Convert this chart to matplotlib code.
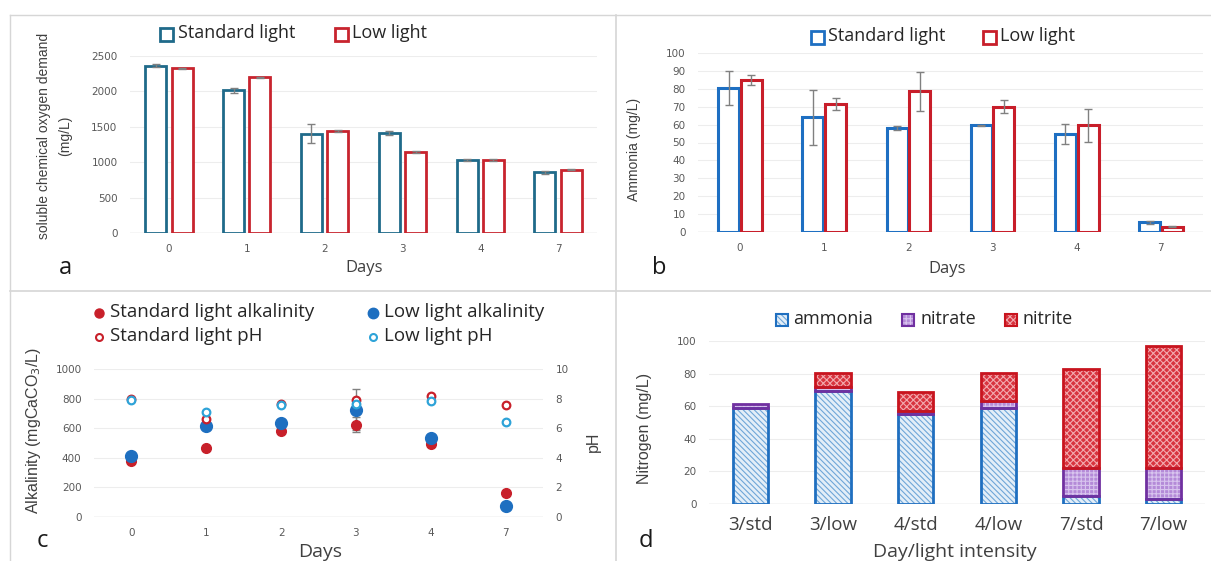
import matplotlib
matplotlib.use("Agg")
import matplotlib.pyplot as plt
from matplotlib.patches import Rectangle
import numpy as np

# ---------------- data ----------------
days = ["0", "1", "2", "3", "4", "7"]

scod_std = [2360, 2015, 1405, 1415, 1025, 855]
scod_std_err = [20, 40, 130, 25, 15, 20]
scod_low = [2325, 2200, 1445, 1145, 1025, 895]
scod_low_err = [5, 5, 12, 15, 15, 5]

nh3_std = [80.5, 64, 58, 59.5, 55, 5.5]
nh3_std_err = [9.6, 15.6, 1.2, 0.2, 5.6, 0.8]
nh3_low = [85, 71.5, 78.5, 70, 59.5, 3]
nh3_low_err = [2.8, 3.3, 10.8, 3.6, 9.2, 0.3]

alk_std = [376, 466, 579, 624, 495, 160]
alk_std_err = [0, 0, 0, 50, 15, 0]
alk_low = [410, 617, 637, 725, 534, 77]
alk_low_err = [0, 0, 0, 140, 10, 0]
ph_std = [7.95, 6.65, 7.65, 7.9, 8.15, 7.55]
ph_low = [7.9, 7.1, 7.6, 7.65, 7.85, 6.45]

groups = ["3/std", "3/low", "4/std", "4/low", "7/std", "7/low"]
n_ammonia = [59, 69.3, 55, 59, 5, 3]
n_nitrate = [2.3, 2.3, 2.3, 3.9, 17.3, 19]
n_nitrite = [0, 8.6, 11.4, 17.2, 60.7, 75]

# ---------------- layout helpers ----------------
W, H = 1211, 561
fig = plt.figure(figsize=(W / 100, H / 100), dpi=100)
fig.patch.set_facecolor("white")

TICK_FONT = ["DejaVu Sans"]
LEG_FONT = ["Open Sans", "DejaVu Sans"]
NARROW = ["Liberation Sans Narrow", "Liberation Sans", "DejaVu Sans"]
TICK_C = "#595959"
TXT_C = "#404040"
GRID_C = "#EDEDED"


def ax_at(l, t, r, b):
    return fig.add_axes([l / W, 1 - b / H, (r - l) / W, (b - t) / H])


def style(ax, ymax, step, xlabels, xsize=7.5, xpad=8, ypad=9):
    ax.set_xlim(-0.5, len(xlabels) - 0.5)
    ax.set_ylim(0, ymax)
    ax.set_yticks(np.arange(0, ymax + step / 2, step))
    ax.set_xticks(range(len(xlabels)))
    ax.set_xticklabels(xlabels)
    for s in ax.spines.values():
        s.set_visible(False)
    ax.tick_params(length=0, colors=TICK_C)
    ax.tick_params(axis="y", labelsize=7.5, pad=ypad)
    ax.tick_params(axis="x", labelsize=xsize, pad=xpad)
    for lab in ax.get_xticklabels() + ax.get_yticklabels():
        lab.set_family(TICK_FONT)
    ax.grid(axis="y", color=GRID_C, lw=0.8)
    ax.set_axisbelow(True)
    ax.axhline(0, color="#D9D9D9", lw=1.0, zorder=1)


ERR = dict(ecolor="#808080", elinewidth=1, capsize=3, capthick=1)

# ---------------- panel a: sCOD ----------------
A_STD, A_LOW = "#1F6A8A", "#C8242E"
axa = ax_at(130, 56, 597, 233)
style(axa, 2500, 500, days)
x = np.arange(len(days))
axa.bar(x - 0.17, scod_std, 0.27, facecolor="white", edgecolor=A_STD, lw=2.0,
        yerr=scod_std_err, error_kw=ERR, zorder=3)
axa.bar(x + 0.17, scod_low, 0.27, facecolor="white", edgecolor=A_LOW, lw=2.0,
        yerr=scod_low_err, error_kw=ERR, zorder=3)

# ---------------- panel b: ammonia ----------------
B_STD, B_LOW = "#1E6FC2", "#C81E2A"
axb = ax_at(698, 53, 1203, 232)
style(axb, 100, 10, days)
axb.bar(x - 0.135, nh3_std, 0.25, facecolor="white", edgecolor=B_STD, lw=2.2,
        yerr=nh3_std_err, error_kw=ERR, zorder=3)
axb.bar(x + 0.135, nh3_low, 0.25, facecolor="white", edgecolor=B_LOW, lw=2.2,
        yerr=nh3_low_err, error_kw=ERR, zorder=3)

# ---------------- panel c: alkalinity and pH ----------------
C_RED, C_BLUE, C_LBLUE = "#C8202A", "#1E6FC0", "#2EA3D8"
axc = ax_at(94, 369, 543, 517)
style(axc, 1000, 200, days)
axc.errorbar(x, alk_std, yerr=alk_std_err, fmt="none", ecolor="#808080", elinewidth=1, capsize=3, zorder=3)
axc.errorbar(x, alk_low, yerr=alk_low_err, fmt="none", ecolor="#808080", elinewidth=1, capsize=3, zorder=3)
axc.plot(x, alk_std, "o", ls="none", color=C_RED, ms=7, zorder=4)
axc.plot(x, alk_low, "o", ls="none", color=C_BLUE, ms=8.5, zorder=5)
axc2 = axc.twinx()
axc2.set_ylim(0, 10)
axc2.set_yticks(range(0, 11, 2))
for s in axc2.spines.values():
    s.set_visible(False)
axc2.tick_params(length=0, colors=TICK_C, labelsize=7.5, pad=9)
for lab in axc2.get_yticklabels():
    lab.set_family(TICK_FONT)
axc2.plot(x, ph_std, "o", ls="none", mfc="white", mec=C_RED, mew=1.6, ms=5.5, zorder=6)
axc2.plot(x, ph_low, "o", ls="none", mfc="white", mec=C_LBLUE, mew=1.6, ms=5.5, zorder=7)

# ---------------- panel d: nitrogen species ----------------
AMM_E, AMM_F, AMM_H = "#1F6FC0", "#E3EEF8", "#6FA6D8"
NIT_E, NIT_F, NIT_H = "#7030A0", "#B48AD8", "#D8C4EE"
NII_E, NII_F, NII_H = "#C8141E", "#D8343F", "#F2A9AE"
AMM_P, NIT_P, NII_P = "\\\\\\\\\\\\", "++++", "xxxxx"
axd = ax_at(709, 341, 1205, 504)
style(axd, 100, 20, groups, xsize=13.5, xpad=9)
for lab in axd.get_xticklabels():
    lab.set_family(LEG_FONT)
    lab.set_color(TXT_C)
xg = np.arange(len(groups))
bw = 0.43
plt.rcParams["hatch.linewidth"] = 0.8
bottoms = np.zeros(len(groups))
for vals, fc, hc, ec, hatch in [
    (n_ammonia, AMM_F, AMM_H, AMM_E, AMM_P),
    (n_nitrate, NIT_F, NIT_H, NIT_E, NIT_P),
    (n_nitrite, NII_F, NII_H, NII_E, NII_P),
]:
    vals = np.array(vals, dtype=float)
    # hatched fill, then the solid outline on top
    axd.bar(xg, vals, bw, bottom=bottoms, facecolor=fc, edgecolor=hc, hatch=hatch, lw=0, zorder=3)
    axd.bar(xg, np.where(vals > 0, vals, np.nan), bw, bottom=bottoms, facecolor="none",
            edgecolor=ec, lw=2.0, zorder=4)
    bottoms = bottoms + vals

# ---------------- overlay: borders, titles, legends ----------------
ov = fig.add_axes([0, 0, 1, 1], zorder=20)
ov.set_xlim(0, W)
ov.set_ylim(H, 0)
ov.axis("off")
ov.patch.set_alpha(0)

bc = "#D6D6D6"
ov.plot([10, 10], [15, H], color=bc, lw=1)
ov.plot([616, 616], [15, H], color=bc, lw=1.2)
ov.plot([10, W], [15, 15], color=bc, lw=1)
ov.plot([10, W], [291, 291], color=bc, lw=1.2)

# panel letters
for lx, ly, t in [(65, 268, "a"), (659, 268, "b"), (42, 541, "c"), (646, 541, "d")]:
    ov.text(lx, ly, t, fontsize=17, color="#1A1A1A", family=LEG_FONT, ha="center", va="center")

# x titles
ov.text(364, 268, "Days", fontsize=12, color=TXT_C, family=LEG_FONT, ha="center", va="center")
ov.text(947, 269, "Days", fontsize=12, color=TXT_C, family=LEG_FONT, ha="center", va="center")
ov.text(320, 552, "Days", fontsize=14, color=TXT_C, family=LEG_FONT, ha="center", va="center")
ov.text(955, 552, "Day/light intensity", fontsize=14, color=TXT_C, family=LEG_FONT, ha="center", va="center")

# y titles
ov.text(44, 136, "soluble chemical oxygen demand", fontsize=10, color=TXT_C, family=NARROW,
        rotation=90, ha="center", va="center")
ov.text(65, 136, "(mg/L)", fontsize=10, color=TXT_C, family=NARROW, rotation=90, ha="center", va="center")
ov.text(634, 149, "Ammonia (mg/L)", fontsize=10, color=TXT_C, family=NARROW, rotation=90,
        ha="center", va="center")
ov.text(34, 430, "Alkalinity (mgCaCO$_3$/L)", fontsize=11.5, color=TXT_C, family=NARROW, rotation=90,
        ha="center", va="center")
ov.text(593, 442, "pH", fontsize=11.5, color=TXT_C, family=NARROW, rotation=90, ha="center", va="center")
ov.text(644, 428, "Nitrogen (mg/L)", fontsize=11.5, color=TXT_C, family=NARROW, rotation=90,
        ha="center", va="center")


def sq(xc, yc, ec, s=13, fc="white", lw=2.0, hatch=None, hc=None):
    if hatch:
        ov.add_patch(Rectangle((xc - s / 2, yc - s / 2), s, s, facecolor=fc, edgecolor=hc, hatch=hatch, lw=0))
        ov.add_patch(Rectangle((xc - s / 2, yc - s / 2), s, s, facecolor="none", edgecolor=ec, lw=lw))
    else:
        ov.add_patch(Rectangle((xc - s / 2, yc - s / 2), s, s, facecolor=fc, edgecolor=ec, lw=lw))


def ltext(x0, y0, t, fs=13):
    ov.text(x0, y0, t, fontsize=fs, color="#262626", family=LEG_FONT, ha="left", va="center")


# legend a
sq(166, 34, A_STD)
ltext(178, 33, "Standard light")
sq(341, 34, A_LOW)
ltext(352, 33, "Low light")
# legend b
sq(817, 37, B_STD)
ltext(828, 36, "Standard light")
sq(989, 37, B_LOW)
ltext(1000, 36, "Low light")
# legend c
for mx, my, kw, t in [
    (99, 313, dict(color=C_RED, ms=6.5), "Standard light alkalinity"),
    (373, 313, dict(color=C_BLUE, ms=7.5), "Low light alkalinity"),
    (99, 337, dict(mfc="white", mec=C_RED, mew=1.5, ms=5), "Standard light pH"),
    (373, 337, dict(mfc="white", mec=C_LBLUE, mew=1.5, ms=5), "Low light pH"),
]:
    ov.plot([mx], [my], "o", **kw)
    ltext(mx + 11, my - 1, t, fs=13.5)
# legend d
sq(782, 320, AMM_E, s=12, fc=AMM_F, hatch=AMM_P, hc=AMM_H, lw=1.5)
ltext(793, 319, "ammonia", fs=13)
sq(908, 320, NIT_E, s=12, fc=NIT_F, hatch=NIT_P, hc=NIT_H, lw=1.5)
ltext(920, 319, "nitrate", fs=13)
sq(1011, 320, NII_E, s=12, fc=NII_F, hatch=NII_P, hc=NII_H, lw=1.5)
ltext(1023, 319, "nitrite", fs=13)

fig.savefig("out.png", dpi=100)
